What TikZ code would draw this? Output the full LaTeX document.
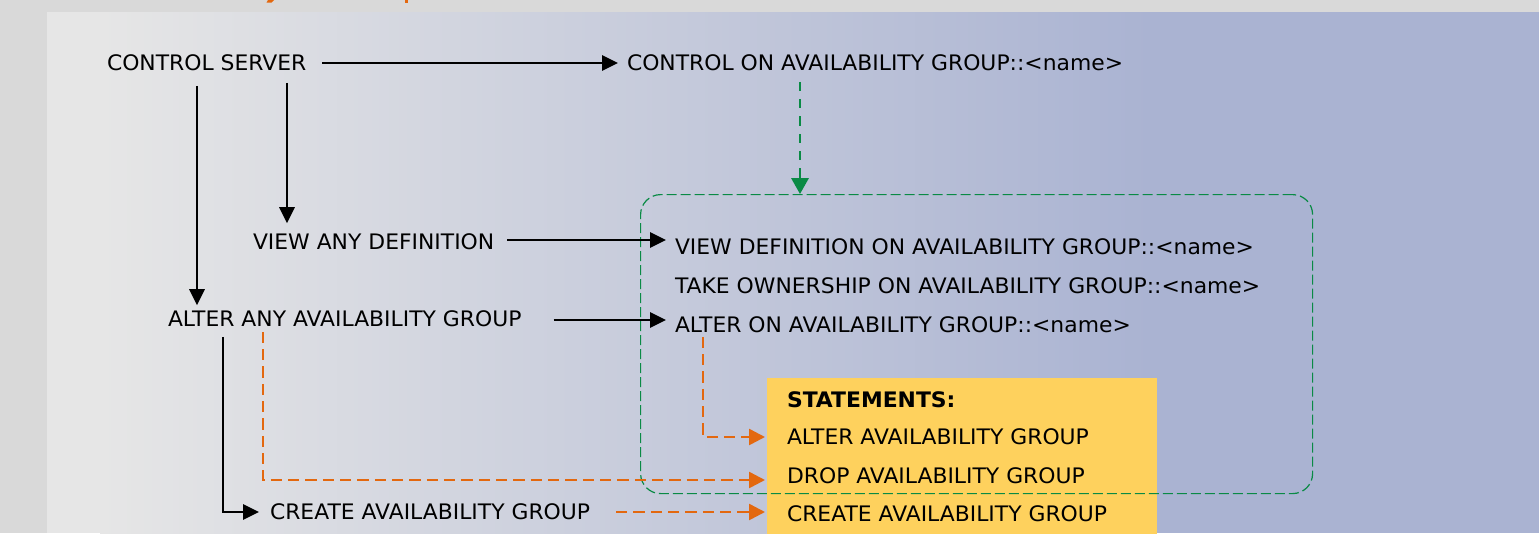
\documentclass[tikz,border=0pt]{standalone}
\usepackage{fontspec}
\setmainfont[FakeStretch=1.025]{DejaVu Sans}
\usetikzlibrary{arrows.meta,calc}
\definecolor{stripgrey}{HTML}{D9D9D9}
\definecolor{panelleft}{HTML}{E6E6E6}
\definecolor{panelright}{HTML}{AAB3D2}
\definecolor{stmtyellow}{HTML}{FED15D}
\definecolor{permgreen}{HTML}{0A8A45}
\definecolor{stmtorange}{HTML}{E3680F}
\definecolor{inktext}{HTML}{000000}
\newcommand\permsize{\fontsize{16}{19}\selectfont}

\begin{document}
\begin{tikzpicture}[x=0.75pt,y=-0.75pt,
  lbl/.style={anchor=west, inner sep=0pt, outer sep=0pt, text height=11.66pt,
    text depth=0pt, font=\permsize, text=inktext},
  grant/.style={draw=black, line width=1.7pt, -{Triangle[length=12pt,width=11.5pt]}},
  flow/.style={draw=stmtorange, line width=1.9pt, dash pattern=on 8.5pt off 4.5pt,
    -{Triangle[length=12pt,width=12pt]}},
  implies/.style={draw=permgreen, line width=1.8pt, dash pattern=on 7pt off 6pt,
    -{Triangle[length=12pt,width=13pt]}},
  groupbox/.style={draw=permgreen, line width=0.9pt, dash pattern=on 7.5pt off 3pt,
    rounded corners=15pt, anchor=north west, inner sep=0pt},
]
\useasboundingbox (0,0) rectangle (1539,533);

% background: grey frame and shaded panel
\fill[stripgrey] (0,0) rectangle (1539,533);
\fill[panelleft] (47,12) rectangle (101,533);
\shade[left color=panelleft, right color=panelright] (100,12) rectangle (1151,533);
\fill[panelright] (1150,12) rectangle (1539,533);

% descenders of the heading above the panel
\fill[stmtorange] (268,0) -- (274,0) -- (271.5,2.5) -- (266.5,2.5) -- cycle;
\fill[stmtorange] (404.5,0) rectangle (408,3);

% statements panel
\node[fill=stmtyellow, anchor=north west, inner sep=0pt,
  minimum width=292.5pt, minimum height=117pt] (stmt) at (767,378) {};

% availability group permissions
\node[groupbox, minimum width=504pt, minimum height=224.25pt] (grp) at (640,194) {};

% server level permissions
\node[lbl] (cs)  at (107,63)  {CONTROL SERVER};
\node[lbl] (coa) at (627,63)  {CONTROL ON AVAILABILITY GROUP::<name>};
\node[lbl] (vad) at (253,242) {VIEW ANY DEFINITION};
\node[lbl] (aag) at (168,319) {ALTER ANY AVAILABILITY GROUP};
\node[lbl] (cag) at (270,512) {CREATE AVAILABILITY GROUP};

% object level permissions
\node[lbl] (vdo) at (675,247) {VIEW DEFINITION ON AVAILABILITY GROUP::<name>};
\node[lbl] (tko) at (675,286) {TAKE OWNERSHIP ON AVAILABILITY GROUP::<name>};
\node[lbl] (aon) at (675,325) {ALTER ON AVAILABILITY GROUP::<name>};

% statements
\node[lbl, font=\permsize\bfseries] (sth) at (787,400) {STATEMENTS:};
\node[lbl] (salt)    at (787,437) {ALTER AVAILABILITY GROUP};
\node[lbl] (sdrop)   at (787,476) {DROP AVAILABILITY GROUP};
\node[lbl] (screate) at (787,514) {CREATE AVAILABILITY GROUP};

% permission hierarchy
\draw[grant] ($(cs.east)+(16,0)$) -- ($(coa.west)+(-9,0)$);
\draw[grant] ($(cs.south west)+(90,15)$) -- ($(aag.north west)+(29,-6)$);
\draw[grant] ($(cs.south west)+(180,12)$) -- ($(vad.north west)+(34,-11)$);
\draw[grant] ($(vad.east)+(13,-2)$) -- ($(vdo.west)+(-9,-7)$);
\draw[grant] ($(aag.east)+(32,1)$) -- ($(aon.west)+(-9,-5)$);
\draw[grant] ($(aag.south west)+(55,10)$) |- ($(cag.west)+(-11,0)$);

% control implies the group permissions
\coordinate (gsrc) at ($(coa.south west)+(173,11)$);
\draw[implies] (gsrc) -- (gsrc |- grp.north);

% permissions allowing the statements
\draw[flow] ($(aag.south west)+(95,5)$) |- ($(sdrop.west)+(-22,4)$);
\draw[flow] ($(aon.south west)+(28,4)$) |- ($(salt.west)+(-22,0)$);
\draw[flow] ($(cag.east)+(26,0)$) -- ($(screate.west)+(-22,-2)$);
\end{tikzpicture}
\end{document}
